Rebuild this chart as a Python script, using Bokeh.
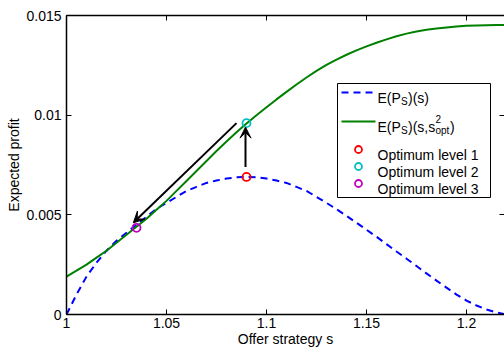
from bokeh.plotting import figure
from bokeh.models import FixedTicker, LinearAxis, Range1d, Arrow, VeeHead
from bokeh.core.properties import value
from bokeh.embed import file_html
from bokeh.resources import INLINE

# ---- data ----
s_grid = [1.000, 1.005, 1.010, 1.015, 1.020, 1.025, 1.030, 1.035, 1.040, 1.045,
          1.050, 1.055, 1.060, 1.065, 1.070, 1.075, 1.080, 1.085, 1.090, 1.095,
          1.100, 1.105, 1.110, 1.115, 1.120, 1.125, 1.130, 1.135, 1.140, 1.145,
          1.150, 1.155, 1.160, 1.165, 1.170, 1.175, 1.180, 1.185, 1.190, 1.195,
          1.200, 1.205, 1.210, 1.215, 1.220]
profit_s = [0.0, 0.0010, 0.0019, 0.0026, 0.0032, 0.0037, 0.0041, 0.0045, 0.0049, 0.0053,
            0.0056, 0.0059, 0.0062, 0.0064, 0.0066, 0.00672, 0.00682, 0.00688, 0.0069, 0.00688,
            0.00682, 0.00672, 0.0066, 0.0064, 0.0062, 0.0059, 0.0056, 0.00528, 0.00495, 0.0046,
            0.00425, 0.0039, 0.00353, 0.00316, 0.0028, 0.00243, 0.00206, 0.0017, 0.00135, 0.0010,
            0.0007, 0.00045, 0.00025, 0.0001, 0.0]
profit_s_sopt = [0.0019, 0.0022, 0.0025, 0.00285, 0.0032, 0.0036, 0.0040, 0.0044, 0.0048, 0.00525,
                 0.0057, 0.0062, 0.0067, 0.0072, 0.0077, 0.0082, 0.00868, 0.00914, 0.00958, 0.0100,
                 0.0104, 0.01079, 0.01117, 0.01154, 0.01189, 0.01222, 0.01252, 0.01279, 0.01303, 0.01325,
                 0.01345, 0.01363, 0.0138, 0.01396, 0.01409, 0.0142, 0.01428, 0.01435, 0.0144, 0.01445,
                 0.01448, 0.0145, 0.01451, 0.01452, 0.01452]
opt_names = ["Optimum level 1", "Optimum level 2", "Optimum level 3"]
opt_s = [1.09, 1.09, 1.035]
opt_profit = [0.0069, 0.0096, 0.00435]
opt_colors = ["#FF0000", "#00BFBF", "#BF00BF"]

# arrows (start -> end)
arrow_up = (1.0895, 0.0074, 1.0895, 0.0094)
arrow_diag = (1.085, 0.0096, 1.0334, 0.0046)

x_ticks = [1, 1.05, 1.1, 1.15, 1.2]
x_tick_labels = ["1", "1.05", "1.1", "1.15", "1.2"]
y_ticks = [0, 0.005, 0.01, 0.015]
y_tick_labels = ["0", "0.005", "0.01", "0.015"]

X0, X1 = 1.0, 1.219
Y0, Y1 = 0.0, 0.015

# frame geometry in pixels
FL, FR, FT, FB = 66, 504, 15, 314

def sx(px):
    return X0 + (px - FL) / (FR - FL) * (X1 - X0)

def sy(py):
    return Y0 + (FB - py) / (FB - FT) * (Y1 - Y0)

FONT = "Liberation Sans"

p = figure(width=504, height=352, output_backend="svg", toolbar_location=None,
           x_range=Range1d(X0, X1), y_range=Range1d(Y0, Y1),
           min_border_left=FL, min_border_right=0, min_border_top=FT,
           min_border_bottom=352 - FB)
p.outline_line_color = None
p.grid.visible = False
p.background_fill_color = "white"
p.border_fill_color = "white"

def style_axis(ax, ticks, labels, show_labels=True):
    ax.ticker = FixedTicker(ticks=ticks)
    ax.major_label_overrides = {(int(t) if float(t).is_integer() else t): l
                                for t, l in zip(ticks, labels)}
    ax.minor_tick_line_color = None
    ax.major_tick_in = 5
    ax.major_tick_out = 0
    ax.major_tick_line_color = "black"
    ax.major_tick_line_width = 1
    ax.axis_line_color = "black"
    ax.axis_line_width = 1.5
    ax.major_label_text_font = FONT
    ax.major_label_text_font_size = "14px" if show_labels else "0px"
    ax.major_label_text_color = "black"
    ax.axis_label_text_font = FONT
    ax.axis_label_text_font_size = "14px"
    ax.axis_label_text_font_style = "normal"
    ax.axis_label_text_color = "black"

style_axis(p.xaxis[0], x_ticks, x_tick_labels)
style_axis(p.yaxis[0], y_ticks, y_tick_labels)
p.xaxis[0].axis_label = "Offer strategy s"
p.yaxis[0].axis_label = "Expected profit"
p.xaxis[0].major_label_standoff = 3
p.xaxis[0].axis_label_standoff = 0
p.yaxis[0].major_label_standoff = 5
p.yaxis[0].axis_label_standoff = 1

top = LinearAxis()
style_axis(top, x_ticks, [""] * len(x_ticks), show_labels=False)
top.major_label_standoff = 0
p.add_layout(top, "above")
right = LinearAxis()
style_axis(right, y_ticks, [""] * len(y_ticks), show_labels=False)
right.major_label_standoff = 0
right.axis_line_color = None
p.add_layout(right, "right")

# curves
p.line(s_grid, profit_s, line_color="#0000FF", line_width=2, line_dash="7 5")
p.line(s_grid, profit_s_sopt, line_color="#008000", line_width=2)

# arrows
for (xs, ys, xe, ye) in (arrow_up, arrow_diag):
    p.add_layout(Arrow(x_start=xs, y_start=ys, x_end=xe, y_end=ye,
                       line_color="black", line_width=2,
                       end=VeeHead(size=11, fill_color="black", line_color="black",
                                   line_width=1)))

# optimum markers
p.scatter(opt_s, opt_profit, marker="circle", size=8, fill_color=None,
          line_color=opt_colors, line_width=1.8)

# ---- manual legend ----
LB_L, LB_R, LB_T, LB_B = 337, 490, 83, 197
p.quad(left=[sx(LB_L)], right=[sx(LB_R)], top=[sy(LB_T)], bottom=[sy(LB_B)],
       fill_color="white", line_color="black", line_width=1)

TX = 377
row1, row2 = 97, 126
p.line([sx(341), sx(375)], [sy(row1 - 5)] * 2, line_color="#0000FF", line_width=2,
       line_dash="7 5")
p.line([sx(341), sx(375)], [sy(row2 - 5)] * 2, line_color="#008000", line_width=2)

def txt(px, py, t, size="14px"):
    p.text([sx(px)], [sy(py)], text=[t], text_font=value(FONT),
           text_font_size=value(size), text_color="black",
           text_baseline="alphabetic", text_align="left")

# E(P_S)(s)
txt(TX, row1, "E(P")
txt(TX + 23.5, row1 + 4, "S", "10px")
txt(TX + 30.5, row1, ")(s)")
# E(P_S)(s,s^2_opt)
txt(TX, row2, "E(P")
txt(TX + 23.5, row2 + 4, "S", "10px")
txt(TX + 30.5, row2, ")(s,s")
txt(TX + 58, row2 - 8, "2", "10px")
txt(TX + 58, row2 + 4, "opt", "10px")
txt(TX + 72.5, row2, ")")

level_rows = [154, 171, 188]
for name, col, ry in zip(opt_names, opt_colors, level_rows):
    p.scatter([sx(358)], [sy(ry - 5)], marker="circle", size=7, fill_color=None,
              line_color=col, line_width=1.8)
    txt(TX, ry, name)

open("out.html", "w").write(file_html(p, INLINE))
